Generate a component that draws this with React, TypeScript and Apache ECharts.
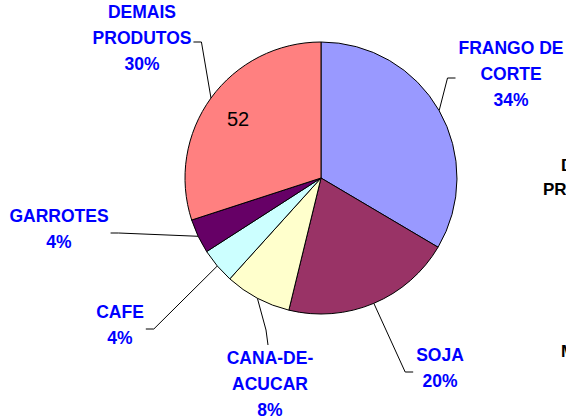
import React, { useEffect, useRef } from "react";
import * as echarts from "echarts";

const categories = [
  "FRANGO DE\nCORTE",
  "SOJA",
  "CANA-DE-\nACUCAR",
  "CAFE",
  "GARROTES",
  "DEMAIS\nPRODUTOS",
];
const shares = [33.5, 20.3, 7.9, 4.2, 4.1, 30.0];
const sliceColors = ["#9999FF", "#993366", "#FFFFCC", "#CCFFFF", "#660066", "#FF8080"];
const labelSpots: [number, number][] = [
  [511, 74],
  [440, 368],
  [270, 384],
  [120, 325],
  [59, 229],
  [142, 38],
];
const attachSides = ["left", "left", "top", "right", "right", "right"];
const innerNote = "52";
const sideTexts = ["D", "PR", "M"];

const FONT = "Liberation Sans, Arial, sans-serif";
const CX = 321;
const CY = 178;
const R = 136;

export default function App() {
  const ref = useRef<HTMLDivElement>(null);
  useEffect(() => {
    if (!ref.current) return;
    const chart = echarts.init(ref.current, null, { renderer: "svg" });
    const total = shares.reduce((a, b) => a + b, 0);
    const sideStyle = (text: string) => ({
      text,
      fontSize: 17,
      fontWeight: "bold",
      fontFamily: FONT,
      fill: "#000000",
      align: "left",
      verticalAlign: "middle",
    });
    const arcPoint = (i: number): number[] => {
      let before = 0;
      for (let k = 0; k < i; k++) before += shares[k];
      const mid = ((before + shares[i] / 2) / total) * Math.PI * 2;
      return [CX + R * Math.sin(mid), CY - R * Math.cos(mid)];
    };
    chart.setOption({
      animation: false,
      backgroundColor: "#ffffff",
      series: [
        {
          type: "pie",
          center: [CX, CY],
          radius: R,
          startAngle: 90,
          clockwise: true,
          avoidLabelOverlap: false,
          percentPrecision: 0,
          silent: true,
          itemStyle: { borderColor: "#000000", borderWidth: 1 },
          label: {
            show: true,
            position: "outside",
            formatter: "{b}\n{d}%",
            color: "#0000FF",
            fontWeight: "bold",
            fontSize: 17.5,
            fontFamily: FONT,
            lineHeight: 26,
            align: "center",
          },
          labelLine: {
            show: true,
            length: 10,
            length2: 7,
            lineStyle: { color: "#000000", width: 1 },
          },
          labelLayout: (params: any) => {
            const i = params.dataIndex;
            const [lx, ly] = labelSpots[i];
            const w = params.labelRect ? params.labelRect.width : 80;
            const h = params.labelRect ? params.labelRect.height : 52;
            const start =
              params.labelLinePoints && params.labelLinePoints[0]
                ? params.labelLinePoints[0]
                : arcPoint(i);
            const side = attachSides[i];
            let end: number[];
            let bend: number[];
            if (side === "left") {
              end = [lx - w / 2 - 3, ly + 4];
              bend = [end[0] - 8, end[1]];
            } else if (side === "right") {
              end = [lx + w / 2 + 2, ly + 4];
              bend = [end[0] + 8, end[1]];
            } else {
              end = [lx - 2, ly - h / 2];
              bend = [lx - 4, ly - h / 2 - 15];
            }
            return {
              x: lx,
              y: ly,
              align: "center",
              verticalAlign: "middle",
              labelLinePoints: [start, bend, end],
            };
          },
          emphasis: { disabled: true },
          data: categories.map((name, i) => ({
            name,
            value: shares[i],
            itemStyle: { color: sliceColors[i] },
          })),
        },
      ],
      graphic: [
        {
          type: "text",
          x: 238,
          y: 119,
          z: 100,
          style: {
            text: innerNote,
            fontSize: 20,
            fontFamily: FONT,
            fill: "#000000",
            align: "center",
            verticalAlign: "middle",
          },
        },
        { type: "text", x: 561, y: 165, z: 100, style: sideStyle(sideTexts[0]) },
        { type: "text", x: 543, y: 189, z: 100, style: sideStyle(sideTexts[1]) },
        { type: "text", x: 561, y: 351, z: 100, style: sideStyle(sideTexts[2]) },
      ],
    });
    return () => chart.dispose();
  }, []);
  return (
    <div
      ref={ref}
      style={{ position: "absolute", left: 0, top: 0, width: 566, height: 419 }}
    />
  );
}
